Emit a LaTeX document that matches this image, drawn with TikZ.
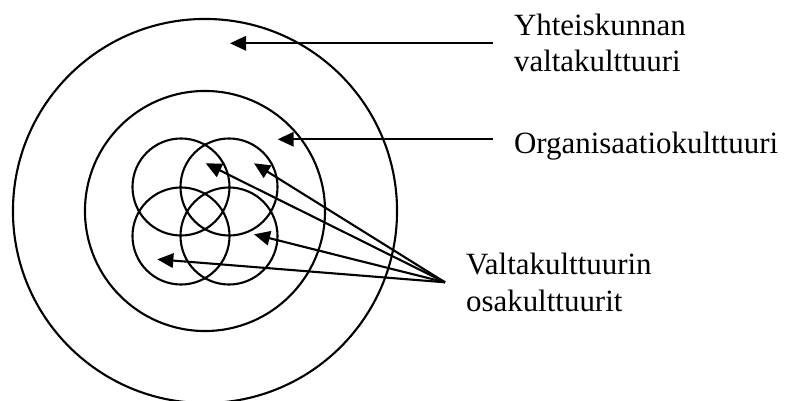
\documentclass[tikz,border=0pt]{standalone}
\usepackage{fontspec}
\setmainfont{Liberation Serif}
\usetikzlibrary{arrows.meta}

\begin{document}
\begin{tikzpicture}[x=0.025cm, y=0.025cm, line width=1.5pt,
    ring/.style={draw, circle, inner sep=0pt},
    lbl/.style={anchor=base west, inner sep=0pt, align=left, font=\fontsize{22}{26.2}\selectfont},
    pointer/.style={-{Triangle[length=0.4cm, width=0.36cm]}}]
    \useasboundingbox (0,0) rectangle (789,401);

    % Society and organisation circles
    \node[ring, minimum size=9.6cm] (society) at (205,190) {};
    \node[ring, minimum size=6cm] (org) at (205,190) {};

    % Sub-culture circles
    \node[ring, minimum size=2.425cm] (subA) at (181,214) {};
    \node[ring, minimum size=2.425cm] (subB) at (229,214) {};
    \node[ring, minimum size=2.425cm] (subC) at (181,165) {};
    \node[ring, minimum size=2.425cm] (subD) at (229,165) {};

    % Labels (base = last line)
    \node[lbl] (socLbl) at (513,329) {Yhteiskunnan\\valtakulttuuri};
    \node[lbl] (orgLbl) at (513,247) {Organisaatiokulttuuri};
    \node[lbl] (subLbl) at (465,89.3) {Valtakulttuurin\\osakulttuurit};

    % Arrow ends
    \coordinate (socStart) at (493,357.7);
    \coordinate (socTip) at (230,357.7);
    \coordinate (orgStart) at (493,261.7);
    \coordinate (orgTip) at (277.7,261.7);
    \coordinate (fan) at (445,118.7);
    \coordinate (tipA) at (205.7,237.7);
    \coordinate (tipB) at (254,237.7);
    \coordinate (tipD) at (254,166.7);
    \coordinate (tipC) at (157.3,141.7);

    % Arrows
    \draw[pointer] (socStart) -- (socTip);
    \draw[pointer] (orgStart) -- (orgTip);
    \draw[pointer] (fan) -- (tipA);
    \draw[pointer] (fan) -- (tipB);
    \draw[pointer] (fan) -- (tipD);
    \draw[pointer] (fan) -- (tipC);
\end{tikzpicture}
\end{document}
